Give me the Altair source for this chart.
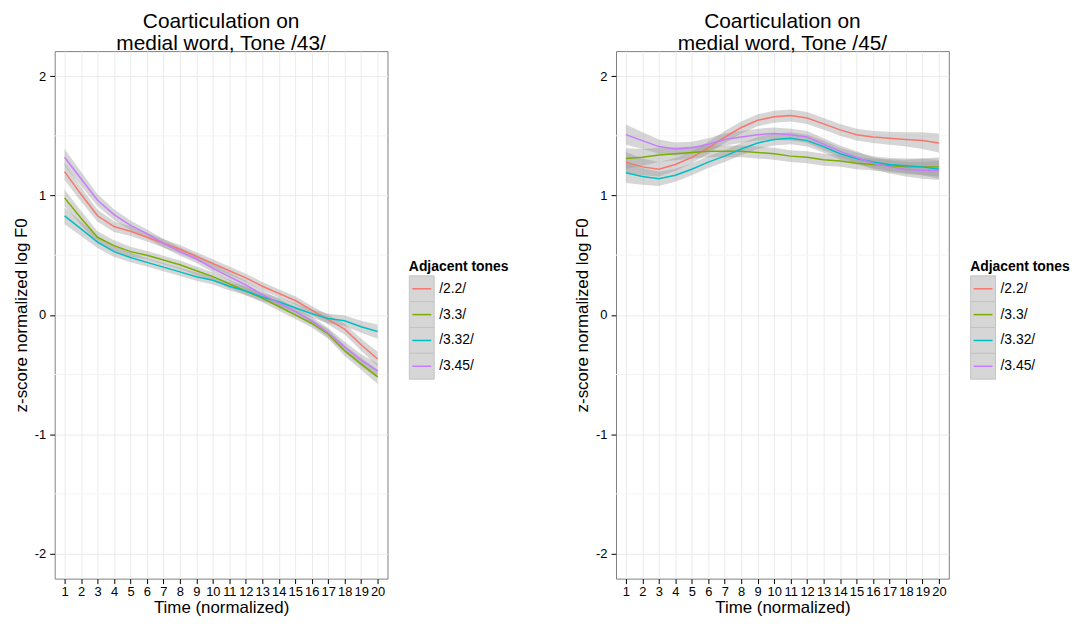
import altair as alt
import pandas as pd

FONT = "Liberation Sans"

times = list(range(1, 21))
tones = ["/2.2/", "/3.3/", "/3.32/", "/3.45/"]
colors = ["#F8766D", "#7CAE00", "#00BFC4", "#C77CFF"]
y_ticks = [-2, -1, 0, 1, 2]
y_minor = [-1.5, -0.5, 0.5, 1.5]

# Tone /43/ panel
t43_22 = [1.20, 1.01, 0.83, 0.74, 0.70, 0.65, 0.60, 0.55, 0.49, 0.43, 0.37, 0.31, 0.24, 0.18, 0.12, 0.04, -0.04, -0.12, -0.25, -0.37]
t43_33 = [0.98, 0.81, 0.65, 0.58, 0.53, 0.50, 0.46, 0.42, 0.37, 0.32, 0.26, 0.20, 0.14, 0.07, 0.00, -0.07, -0.16, -0.30, -0.41, -0.52]
t43_332 = [0.83, 0.72, 0.61, 0.53, 0.48, 0.44, 0.40, 0.36, 0.32, 0.29, 0.24, 0.20, 0.15, 0.11, 0.06, 0.01, -0.03, -0.05, -0.10, -0.14]
t43_345 = [1.32, 1.14, 0.96, 0.84, 0.75, 0.68, 0.60, 0.53, 0.47, 0.39, 0.32, 0.25, 0.17, 0.10, 0.03, -0.05, -0.15, -0.27, -0.38, -0.47]
t43_band = [0.07, 0.06, 0.05, 0.045, 0.04, 0.035, 0.035, 0.035, 0.035, 0.035, 0.035, 0.035, 0.035, 0.035, 0.035, 0.035, 0.04, 0.045, 0.05, 0.06]

# Tone /45/ panel
t45_22 = [1.28, 1.24, 1.22, 1.26, 1.32, 1.40, 1.49, 1.57, 1.63, 1.66, 1.67, 1.65, 1.60, 1.55, 1.51, 1.49, 1.48, 1.47, 1.46, 1.44]
t45_33 = [1.31, 1.32, 1.34, 1.35, 1.36, 1.37, 1.37, 1.37, 1.36, 1.35, 1.33, 1.32, 1.30, 1.29, 1.27, 1.26, 1.25, 1.24, 1.24, 1.24]
t45_332 = [1.19, 1.16, 1.14, 1.17, 1.22, 1.28, 1.33, 1.39, 1.44, 1.47, 1.48, 1.46, 1.41, 1.35, 1.31, 1.28, 1.26, 1.25, 1.24, 1.22]
t45_345 = [1.51, 1.46, 1.41, 1.39, 1.40, 1.43, 1.47, 1.49, 1.51, 1.52, 1.51, 1.49, 1.43, 1.37, 1.32, 1.27, 1.24, 1.22, 1.21, 1.21]
t45_band = [0.085, 0.07, 0.06, 0.055, 0.05, 0.05, 0.05, 0.05, 0.05, 0.05, 0.05, 0.05, 0.05, 0.05, 0.05, 0.05, 0.055, 0.06, 0.07, 0.08]

titles = [["Coarticulation on", "medial word, Tone /43/"],
          ["Coarticulation on", "medial word, Tone /45/"]]


def make_df(series, band):
    rows = []
    for tone, vals in zip(tones, series):
        for t, v, b in zip(times, vals, band):
            rows.append({"t": t, "tone": tone, "y": v, "lo": v - b, "hi": v + b})
    return pd.DataFrame(rows)


cscale = alt.Scale(domain=tones, range=colors)
xscale = alt.Scale(domain=[0.4, 20.6], nice=False, zero=False)
yscale = alt.Scale(domain=[-2.21, 2.21], nice=False, zero=False)
xaxis = alt.Axis(values=times, title="Time (normalized)", labelAngle=0, labelOverlap=False,
                 labelPadding=2, titlePadding=1)
yaxis = alt.Axis(values=y_ticks, title="z-score normalized log F0", labelPadding=4, titlePadding=4,
                 labelExpr="'' + datum.value")


def panel(df, title):
    x = alt.X("t:Q", scale=xscale, axis=xaxis)
    minor = alt.Chart(pd.DataFrame({"m": y_minor})).mark_rule(color="#f4f4f4", strokeWidth=1).encode(
        y=alt.Y("m:Q", scale=yscale, axis=yaxis))
    band = alt.Chart(df).mark_area(color="#999999", opacity=0.4).encode(
        x=x,
        y=alt.Y("lo:Q", scale=yscale, axis=yaxis),
        y2="hi:Q",
        detail="tone:N",
    )
    line = alt.Chart(df).mark_line(strokeWidth=1.5).encode(
        x=x,
        y=alt.Y("y:Q", scale=yscale, axis=yaxis),
        color=alt.Color("tone:N", scale=cscale, legend=None),
        detail="tone:N",
    )
    return alt.layer(minor, band, line).properties(
        width=335, height=531,
        title=alt.Title(title, fontSize=21, fontWeight="normal", anchor="middle", frame="group",
                        color="black", font=FONT, lineHeight=22, offset=-3),
    )


def legend_chart():
    ldf = pd.DataFrame({"tone": tones})
    ly = alt.Y("tone:N", scale=alt.Scale(domain=tones, range=[0, 104], paddingInner=0, paddingOuter=0),
               axis=None, sort=tones)
    keys = alt.Chart(ldf).mark_rect(fill="#d6d6d6", stroke="#c4c4c4", strokeWidth=1).encode(
        x=alt.value(0), x2=alt.value(25), y=ly)
    lines = alt.Chart(ldf).mark_rule(strokeWidth=1.5).encode(
        x=alt.value(3), x2=alt.value(22), y=ly,
        color=alt.Color("tone:N", scale=cscale, legend=None))
    labels = alt.Chart(ldf).mark_text(align="left", baseline="middle", fontSize=14, font=FONT,
                                      color="black").encode(
        x=alt.value(30), y=ly, text="tone:N")
    return alt.layer(keys, lines, labels).properties(
        width=100, height=116,
        view=alt.ViewBackground(strokeOpacity=0),
        title=alt.Title("Adjacent tones", anchor="start", fontSize=14, fontWeight="bold",
                        font=FONT, color="black", offset=1),
    )


p1 = panel(make_df([t43_22, t43_33, t43_332, t43_345], t43_band), titles[0])
p2 = panel(make_df([t45_22, t45_33, t45_332, t45_345], t45_band), titles[1])

left = alt.hconcat(p1, legend_chart(), spacing=20, center=True)
right = alt.hconcat(p2, legend_chart(), spacing=20, center=True)

chart = alt.hconcat(left, right, spacing=64, center=True).properties(
    padding={"left": 3, "top": 0, "right": 0, "bottom": 0}
).configure(font=FONT).configure_view(stroke="#7f7f7f", strokeWidth=1).configure_axis(
    labelFont=FONT, labelFontSize=13, labelColor="black",
    titleFont=FONT, titleFontSize=17, titleFontWeight="normal", titleColor="black",
    tickColor="black", tickSize=5, domain=False,
    gridColor="#ebebeb", gridWidth=1,
)

chart.save("out.html", embed_options={"renderer": "svg", "actions": False})
